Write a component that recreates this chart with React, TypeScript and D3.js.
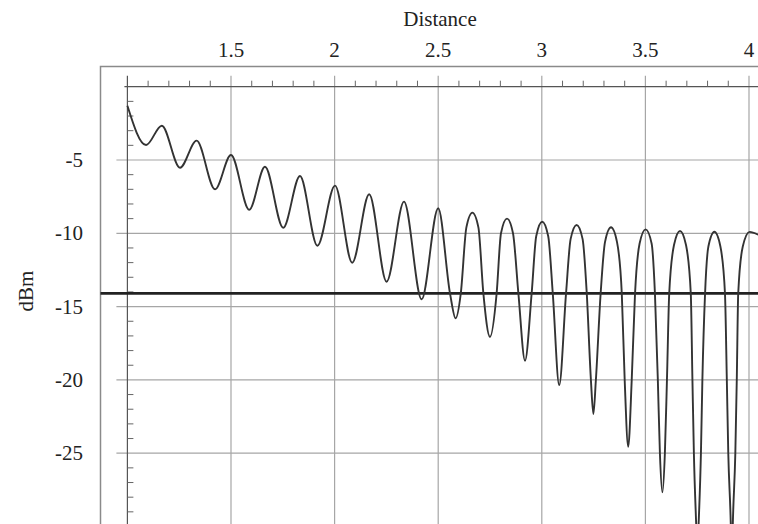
import React from 'react';
import * as d3 from 'd3';

// samples: extrema plus flank / shoulder points on the deep nulls
const distance = [
  1.0, 1.09, 1.166, 1.254, 1.334, 1.423, 1.5, 1.588, 1.664, 1.752, 1.833, 1.917,
  2.002, 2.085, 2.167, 2.251, 2.335, 2.42, 2.5,
  2.557, 2.584, 2.609, 2.636, 2.665, 2.694,
  2.718, 2.75, 2.782, 2.803, 2.832, 2.861,
  2.887, 2.919, 2.951, 2.973, 3.002, 3.031,
  3.053, 3.084, 3.117, 3.139, 3.168, 3.197,
  3.217, 3.237, 3.249, 3.261, 3.284, 3.305, 3.334, 3.363,
  3.386, 3.4, 3.417, 3.434, 3.45, 3.472, 3.501, 3.53,
  3.546, 3.56, 3.57, 3.582, 3.594, 3.604, 3.615, 3.638, 3.667, 3.696,
  3.719, 3.727, 3.734, 3.745, 3.751, 3.757, 3.768, 3.775, 3.788, 3.804, 3.833, 3.862,
  3.884, 3.893, 3.9, 3.912, 3.917, 3.922, 3.934, 3.941, 3.948, 3.97, 4.003,
  4.044,
];
const powerDbm = [
  -1.3, -3.98, -2.66, -5.53, -3.68, -7.0, -4.66, -8.39, -5.46, -9.62, -6.09, -10.85,
  -6.75, -12.01, -7.34, -13.3, -7.84, -14.5, -8.29,
  -14.1, -15.8, -14.1, -9.6, -8.59, -9.6,
  -14.1, -17.07, -14.1, -10.0, -9.0, -10.0,
  -14.1, -18.69, -14.1, -10.2, -9.21, -10.2,
  -14.1, -20.35, -14.1, -10.4, -9.43, -10.4,
  -14.1, -20.0, -22.33, -20.0, -14.1, -10.6, -9.59, -10.6,
  -14.1, -20.0, -24.56, -20.0, -14.1, -10.7, -9.73, -10.7,
  -14.1, -20.0, -25.0, -27.67, -25.0, -20.0, -14.1, -10.8, -9.84, -10.8,
  -14.1, -20.0, -25.0, -29.8, -32.0, -29.8, -25.0, -20.0, -14.1, -10.9, -9.89, -10.9,
  -14.1, -20.0, -25.0, -29.8, -33.0, -29.8, -25.0, -20.0, -14.1, -10.9, -9.9,
  -10.1,
];
const threshold = -14.1;

const xTickValues = [1.5, 2, 2.5, 3, 3.5, 4];
const xTickLabels = ['1.5', '2', '2.5', '3', '3.5', '4'];
const yTickValues = [-5, -10, -15, -20, -25];
const yTickLabels = ['-5', '-10', '-15', '-20', '-25'];

const W = 758;
const H = 524;
const FONT = '"Liberation Serif", "DejaVu Serif", serif';

export default function App() {
  const x = d3.scaleLinear().domain([1, 4]).range([127.4, 749]);
  const y = d3.scaleLinear().domain([0, -30]).range([86.7, 526.5]);

  const frame = { left: 100.5, top: 66.5, right: 820, bottom: 600 };
  const x0 = x(1);
  const y0 = y(0);

  const xMinor = d3.range(11, 41).map(i => i / 10).filter(v => Math.round(v * 10) % 5 !== 0);
  const yMinor = d3.range(-1, -31, -1).filter(v => v % 5 !== 0);

  const pts: [number, number][] = distance.map((d, i) => [d, powerDbm[i]]);
  const line = d3.line<[number, number]>()
    .x(d => x(d[0]))
    .y(d => y(d[1]))
    .curve(d3.curveMonotoneX);

  return (
    <svg width={W} height={H} style={{ position: 'absolute', left: 0, top: 0, background: '#fff' }}>
      <defs>
        <clipPath id="plotClip">
          <rect x={frame.left} y={frame.top} width={frame.right - frame.left} height={frame.bottom - frame.top} />
        </clipPath>
      </defs>

      {/* frame */}
      <rect x={frame.left} y={frame.top} width={frame.right - frame.left} height={frame.bottom - frame.top}
        fill="none" stroke="#8a8a8a" strokeWidth={1.5} />

      {/* grid */}
      {xTickValues.map(v => (
        <line key={'gx' + v} x1={x(v)} x2={x(v)} y1={y0 - 11} y2={frame.bottom}
          stroke="#a6a6a6" strokeWidth={1.2} />
      ))}
      {yTickValues.map(v => (
        <line key={'gy' + v} x1={x0 - 11} x2={frame.right} y1={y(v)} y2={y(v)}
          stroke="#a6a6a6" strokeWidth={1.2} />
      ))}

      {/* axes */}
      <line x1={x0 - 3} x2={frame.right} y1={y0} y2={y0} stroke="#555" strokeWidth={1.2} />
      <line x1={x0} x2={x0} y1={y0 - 11} y2={frame.bottom} stroke="#555" strokeWidth={1.2} />
      {xMinor.map(v => (
        <line key={'mx' + v} x1={x(v)} x2={x(v)} y1={y0 - 6} y2={y0} stroke="#666" strokeWidth={1} />
      ))}
      {yMinor.map(v => (
        <line key={'my' + v} x1={x0} x2={x0 + 6} y1={y(v)} y2={y(v)} stroke="#666" strokeWidth={1} />
      ))}

      {/* tick labels */}
      {xTickValues.map((v, i) => (
        <text key={'tx' + v} x={x(v)} y={57} textAnchor="middle" fontFamily={FONT} fontSize={21} fill="#222">
          {xTickLabels[i]}
        </text>
      ))}
      {yTickValues.map((v, i) => (
        <text key={'ty' + v} x={83} y={y(v) + 7} textAnchor="end" fontFamily={FONT} fontSize={21} fill="#222">
          {yTickLabels[i]}
        </text>
      ))}

      <text x={440} y={26} textAnchor="middle" fontFamily={FONT} fontSize={21} fill="#222">Distance</text>
      <text transform={`translate(33, 291) rotate(-90)`} textAnchor="middle" fontFamily={FONT} fontSize={21} fill="#222">dBm</text>

      {/* threshold */}
      <line x1={frame.left} x2={frame.right} y1={y(threshold)} y2={y(threshold)} stroke="#222" strokeWidth={2.6} />

      {/* curve */}
      <path d={line(pts) ?? ''} fill="none" stroke="#333" strokeWidth={1.9} strokeLinejoin="round"
        clipPath="url(#plotClip)" />
    </svg>
  );
}
